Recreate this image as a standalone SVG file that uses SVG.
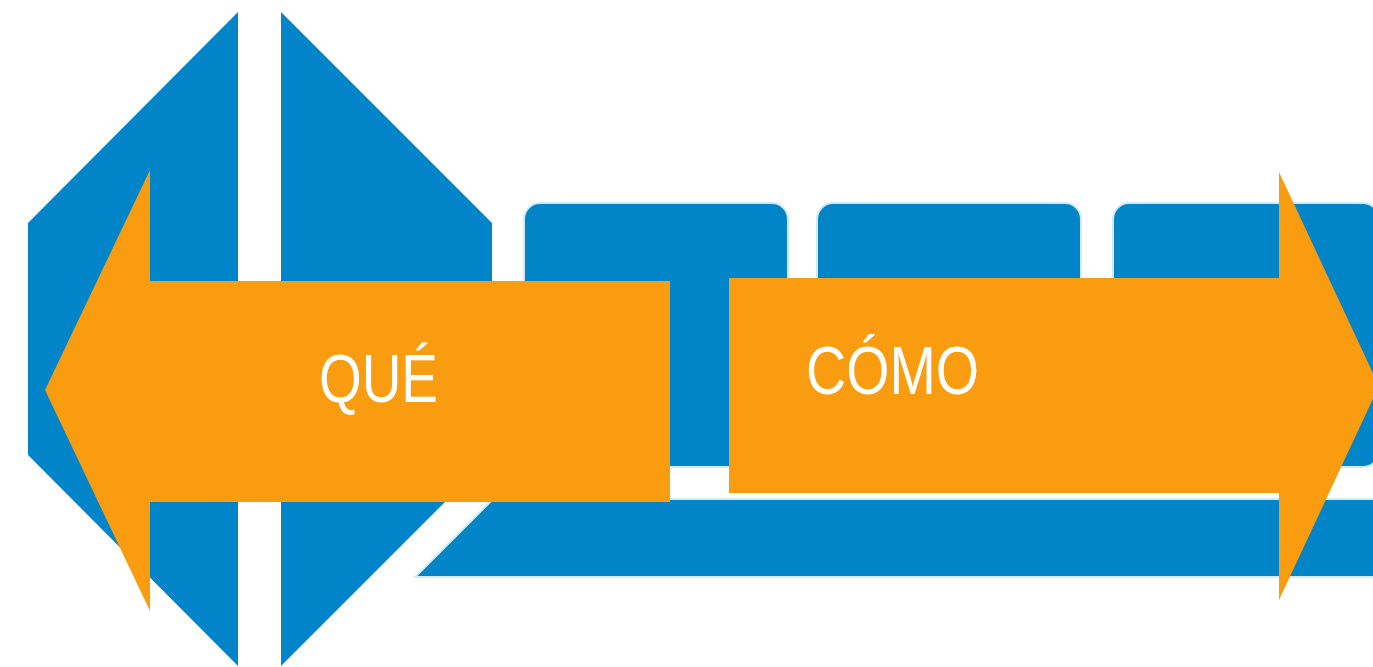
<svg xmlns="http://www.w3.org/2000/svg" width="1373" height="667" viewBox="0 0 1373 667">
  <style>
    .blue { fill: #0284c9; }
    .box { fill: #0284c9; stroke: #d3ebf4; stroke-width: 2; }
    .orange { fill: #f99c0f; }
    .label { fill: #ffffff; font-family: "Liberation Sans Narrow", "Liberation Sans", Arial, sans-serif; font-size: 69px; }
  </style>
  <rect width="1373" height="667" fill="#ffffff"/>
  <g id="hex-left"><polygon class="blue" points="238,12 28,223 28,455 238,666"/></g>
  <g id="hex-right"><polygon class="blue" points="281,12 492,223 492,455 281,666"/></g>
  <g id="box-1"><rect class="box" x="524" y="203" width="264" height="264" rx="16"/></g>
  <g id="box-2"><rect class="box" x="817" y="203" width="264" height="264" rx="16"/></g>
  <g id="box-3"><rect class="box" x="1113" y="203" width="266" height="264" rx="16"/></g>
  <g id="base-bar"><polygon class="box" points="493,499 1390,499 1390,577 415,577"/></g>
  <g id="arrow-que">
    <polygon class="orange" points="45,390 150,170 150,281 670,281 670,502 150,502 150,611"/>
    <text class="label" x="319" y="402" textLength="119" lengthAdjust="spacingAndGlyphs">QUÉ</text>
  </g>
  <g id="arrow-como">
    <polygon class="orange" points="729,278 1279,278 1279,172 1379,386 1279,600 1279,493 729,493"/>
    <text class="label" x="806" y="394" textLength="173" lengthAdjust="spacingAndGlyphs">CÓMO</text>
  </g>
  <g id="connectors"/>
</svg>
